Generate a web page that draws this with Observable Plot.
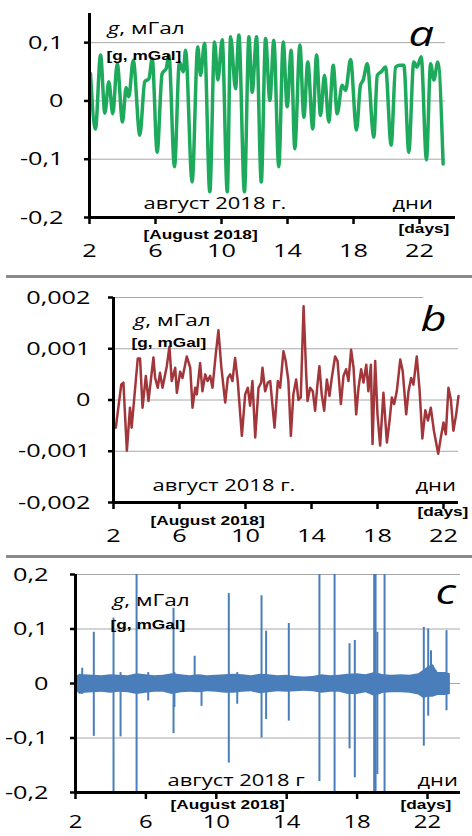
<!DOCTYPE html>
<html><head><meta charset="utf-8">
<script src="https://cdn.jsdelivr.net/npm/d3@7"></script>
<script src="https://cdn.jsdelivr.net/npm/@observablehq/plot@0.6"></script>
<style>
body{margin:0;background:#fff;}
#wrap{position:relative;width:472px;height:836px;overflow:hidden;background:#fff;}
.panel{position:absolute;left:0;}
.sep{position:absolute;left:6px;width:466px;height:3px;background:#8a8a8a;}
</style></head><body><div id="wrap"></div>
<script>
// ---------- DATA ----------
const xTicks = [2, 6, 10, 14, 18, 22];
const xTickLabels = ["2", "6", "10", "14", "18", "22"];

// panel a (mGal)
const yTicksA = [-0.2, -0.1, 0, 0.1];
const yLabelsA = ["-0,2", "-0,1", "0", "0,1"];
const dayA = [2.06,2.36,2.67,2.93,3.17,3.41,3.68,4.0,4.22,4.38,4.65,5.05,5.35,5.6,5.8,6.1,6.4,6.65,6.81,7.15,7.45,7.68,7.82,8.22,8.56,8.73,8.97,9.29,9.58,9.78,10.04,10.35,10.55,10.85,11.05,11.39,11.66,11.86,12.12,12.41,12.67,12.93,13.17,13.47,13.74,13.98,14.22,14.44,14.75,14.99,15.23,15.53,15.76,16.0,16.24,16.5,16.77,17.01,17.31,17.52,17.82,18.18,18.42,18.59,18.83,19.23,19.44,19.68,19.94,20.28,20.55,20.8,21.05,21.35,21.65,21.85,22.1,22.42,22.67,22.87,23.11,23.43];
const gA = [0.047,-0.048,0.079,-0.021,0.033,-0.022,0.064,-0.036,0.023,0.007,0.07,-0.059,0.033,0.038,0.073,-0.088,0.047,0.056,0.079,-0.113,0.067,0.05,0.087,-0.139,0.093,0.044,0.099,-0.156,0.101,0.036,0.105,-0.156,0.11,0.021,0.113,-0.156,0.11,0.015,0.11,-0.139,0.107,0.001,0.104,-0.113,0.101,-0.01,0.087,-0.082,0.096,-0.028,0.067,-0.048,0.079,-0.025,0.044,-0.036,0.061,-0.022,0.027,0.018,0.071,-0.05,0.027,0.036,0.064,-0.062,0.044,0.05,0.058,-0.076,0.058,0.061,0.061,-0.088,0.067,0.058,0.076,-0.101,0.064,0.036,0.067,-0.108];

// panel b (mGal)
const yTicksB = [-0.002, -0.001, 0, 0.001, 0.002];
const yLabelsB = ["-0,002", "-0,001", "0", "0,001", "0,002"];
const dayB = [2.14,2.47,2.6,2.81,3.0,3.1,3.47,3.61,3.76,3.96,4.12,4.42,4.52,4.68,4.82,4.97,5.23,5.39,5.53,5.74,5.84,6.04,6.18,6.44,6.65,6.79,6.95,7.05,7.25,7.39,7.56,7.7,7.86,8.0,8.2,8.36,8.53,8.77,8.93,9.07,9.21,9.37,9.53,9.78,9.98,10.14,10.28,10.42,10.59,10.79,10.95,11.03,11.19,11.35,11.5,11.76,11.96,12.1,12.3,12.44,12.6,12.75,12.9,13.07,13.21,13.35,13.52,13.68,13.76,13.92,14.08,14.22,14.36,14.48,14.62,14.77,14.93,15.09,15.23,15.43,15.58,15.78,15.94,16.1,16.24,16.4,16.55,16.71,16.85,17.01,17.15,17.32,17.45,17.6,17.7,17.86,18.0,18.16,18.36,18.57,18.73,18.87,19.01,19.17,19.38,19.53,19.74,19.88,20.04,20.18,20.38,20.55,20.72,20.9,21.06,21.23,21.42,21.68,21.84,22.0,22.14,22.3,22.45,22.6,22.77,22.91];
const gB = [-0.00054,0.0003,0.00034,-0.00099,-0.00015,-0.00054,0.00081,0.00081,-0.00015,0.00047,-0.00002,0.00083,0.00044,0.00024,0.00053,0.00024,0.00066,0.00104,0.00037,0.00063,0.00014,0.00055,0.00043,0.00085,0.00063,-0.00015,0.00024,0.00011,0.00072,0.00017,0.0005,0.00037,0.00047,0.00024,0.0009,0.00136,0.00066,-0.00005,0.00043,0.0005,0.00037,0.00082,0.00037,-0.0007,0.00011,0.00024,-0.00011,0.00037,-0.00073,0.00024,0.00034,0.00063,0.00017,0.00034,0.00037,-0.00054,0.00037,0.00024,0.00095,0.00076,0.00037,-0.0007,0.00011,0.0004,0.0,0.00005,0.00183,0.0005,-0.00002,0.00024,0.00017,-0.00021,0.0003,0.00066,0.00011,-0.00021,0.0004,0.00008,0.00043,0.00085,0.00076,-0.00008,0.00047,0.0006,0.00037,0.00098,0.00063,-0.00028,0.00024,0.0006,0.00034,0.00069,0.00017,0.00069,-0.00086,0.00076,-0.00028,-0.00089,0.00014,-0.00083,-0.00041,0.00005,-0.00008,0.00017,0.00079,0.00056,-0.00028,0.00017,0.00043,0.0003,0.00085,0.0002,-0.00075,-0.0002,-0.0004,-0.00015,-0.0006,-0.00105,-0.00073,-0.00044,-0.00067,0.00024,0.0,-0.0006,-0.00028,0.00008];

// panel c (mGal): noise band envelope + spikes
const yTicksC = [-0.2, -0.1, 0, 0.1, 0.2];
const yLabelsC = ["-0,2", "-0,1", "0", "0,1", "0,2"];
const cBandDay = [2.0,2.25,2.5,3.0,3.5,4.0,4.5,5.0,5.5,6.0,6.5,7.0,7.5,8.0,8.5,9.0,9.5,10.0,10.5,11.0,11.5,12.0,12.5,13.0,13.5,14.0,14.5,15.0,15.5,16.0,16.5,17.0,17.5,18.0,18.5,19.0,19.5,20.0,20.5,21.0,21.5,21.8,22.0,22.3,22.6,23.0,23.3];
const cBandHi = [0.012,0.017,0.016,0.015,0.014,0.016,0.015,0.014,0.018,0.016,0.014,0.015,0.018,0.016,0.014,0.016,0.014,0.015,0.016,0.017,0.016,0.014,0.017,0.016,0.014,0.015,0.013,0.012,0.013,0.016,0.014,0.015,0.017,0.018,0.016,0.02,0.016,0.015,0.016,0.015,0.018,0.025,0.03,0.035,0.02,0.02,0.018];
const cBandLo = [-0.012,-0.02,-0.018,-0.017,-0.016,-0.018,-0.016,-0.017,-0.02,-0.018,-0.016,-0.016,-0.02,-0.017,-0.016,-0.017,-0.015,-0.016,-0.018,-0.018,-0.016,-0.015,-0.019,-0.017,-0.015,-0.016,-0.015,-0.014,-0.015,-0.018,-0.016,-0.016,-0.02,-0.02,-0.017,-0.024,-0.018,-0.017,-0.017,-0.018,-0.021,-0.028,-0.025,-0.025,-0.022,-0.022,-0.02];
const cSpikeDay = [2.38,3.04,4.16,4.56,5.47,6.13,7.57,7.62,8.77,9.16,10.71,11.19,12.57,12.83,14.12,15.86,16.72,17.57,17.87,18.97,19.05,19.15,19.56,21.79,22.04,22.2,22.3,23.08];
const cSpikeHi = [0.028,0.094,0.12,0.02,0.2,0.02,0.138,0.02,0.05,0.015,0.165,0.02,0.161,0.096,0.11,0.2,0.2,0.073,0.079,0.2,0.2,0.094,0.2,0.103,0.1,0.06,0.033,0.097];
const cSpikeLo = [-0.02,-0.097,-0.2,-0.098,-0.2,-0.032,-0.092,-0.044,-0.015,-0.042,-0.146,-0.038,-0.1,-0.066,-0.069,-0.18,-0.2,-0.12,-0.173,-0.2,-0.2,-0.167,-0.2,-0.115,-0.06,-0.02,-0.02,-0.05];

// ---------- DRAWING ----------
const SX = 1.33;
const FONT = "'Open Sans', 'Noto Sans', sans-serif";
const BOLD = "'Liberation Sans', Arial, sans-serif";
const wrap = document.getElementById("wrap");

function label(str, dx, dy, o = {}) {
  return Plot.text([str], {text: d => d, frameAnchor: "top-left", dx, dy,
    textAnchor: "start", lineAnchor: "bottom", fill: "black", fontFamily: FONT, fontSize: 17, ...o});
}

function panel(cfg) {
  const {top, height, mT, mB, mL, mR, xDomain, yDomain, yTicks, yLabels, tickPad, xFont = 19, xPad = 19, grids, data, texts} = cfg;
  const svg = Plot.plot({
    width: 472, height, marginTop: mT, marginBottom: mB, marginLeft: mL, marginRight: mR,
    x: {domain: xDomain}, y: {domain: yDomain},
    style: {fontFamily: FONT, fontSize: "19px", color: "black", background: "white", overflow: "visible"},
    marks: [
      ...grids,
      ...data,
      Plot.ruleX([xDomain[0]], {y1: () => yDomain[0], y2: () => yDomain[1], stroke: "black", strokeWidth: 3}),
      Plot.ruleY([yDomain[0]], {stroke: "black", strokeWidth: 3}),
      Plot.axisY({ticks: yTicks, tickFormat: d => yLabels[yTicks.indexOf(d)], tickSize: 5, tickPadding: tickPad,
        fontSize: 19, strokeWidth: 2.5, label: null}),
      Plot.axisX({ticks: xTicks, tickFormat: d => xTickLabels[xTicks.indexOf(d)], tickSize: 7, tickPadding: xPad,
        fontSize: xFont, strokeWidth: 2.5, label: null}),
      ...texts
    ]
  });
  svg.classList.add("panel");
  svg.style.top = top + "px";
  const ns = "http://www.w3.org/2000/svg";
  svg.querySelectorAll("text").forEach(t => {
    const tr = t.getAttribute("transform") || "";
    t.setAttribute("transform", tr + ` scale(${SX},1)`);
    if (t.textContent === "g, мГал") {
      t.textContent = "";
      const a = document.createElementNS(ns, "tspan");
      a.setAttribute("font-style", "italic"); a.textContent = "g";
      const b = document.createElementNS(ns, "tspan");
      b.textContent = ", мГал";
      t.appendChild(a); t.appendChild(b);
    }
  });
  wrap.appendChild(svg);
}

function sep(top) {
  const d = document.createElement("div");
  d.className = "sep"; d.style.top = top + "px";
  wrap.appendChild(d);
}

const GRID = "#a8a8a8";
const idx = n => d3.range(n);

// Panel a
{
  const xDomain = [2, 24.18], yDomain = [-0.2, 0.15];
  panel({
    top: 0, height: 274, mT: 13, mB: 57, mL: 89, mR: 17, xDomain, yDomain,
    yTicks: yTicksA, yLabels: yLabelsA, tickPad: 21,
    grids: [Plot.ruleY([-0.1, 0, 0.1], {x1: () => 2, x2: () => 23.58, stroke: GRID, strokeWidth: 1})],
    data: [Plot.line(idx(dayA.length), {x: i => dayA[i], y: i => gA[i], stroke: "#1eaa5c", strokeWidth: 3.5, curve: "monotone-x"})],
    texts: [
      label("g, мГал", 18, 20),
      label("[g, mGal]", 17, 46, {fontFamily: BOLD, fontWeight: "bold", fontSize: 13}),
      label("a", 319, 32, {fontSize: 34, fontStyle: "italic"}),
      label("август 2018 г.", 54, 195, {fontSize: 16.5}),
      label("дни", 303, 195, {fontSize: 16.5}),
      label("[August 2018]", 54, 225, {fontFamily: BOLD, fontWeight: "bold", fontSize: 13}),
      label("[days]", 309, 219, {fontFamily: BOLD, fontWeight: "bold", fontSize: 13})
    ]
  });
}
sep(275);
// Panel b
{
  const xDomain = [2, 22.91], yDomain = [-0.002, 0.002];
  panel({
    top: 278, height: 277, mT: 19, mB: 53, mL: 113, mR: 14, xDomain, yDomain,
    yTicks: yTicksB, yLabels: yLabelsB, tickPad: 18,
    grids: [
      Plot.ruleY([0.002], {x1: () => 2, x2: () => 20.8, stroke: GRID, strokeWidth: 1}),
      Plot.ruleY([-0.001, 0, 0.001], {stroke: GRID, strokeWidth: 1})
    ],
    data: [Plot.line(idx(dayB.length), {x: i => dayB[i], y: i => gB[i], stroke: "#a2373b", strokeWidth: 2.5})],
    texts: [
      label("g, мГал", 20, 28),
      label("[g, mGal]", 18, 49, {fontFamily: BOLD, fontWeight: "bold", fontSize: 13}),
      label("b", 307, 33, {fontSize: 34, fontStyle: "italic"}),
      label("август 2018 г.", 39, 193, {fontSize: 16.5}),
      label("дни", 302, 193, {fontSize: 16.5}),
      label("[August 2018]", 37, 227, {fontFamily: BOLD, fontWeight: "bold", fontSize: 13}),
      label("[days]", 304, 218, {fontFamily: BOLD, fontWeight: "bold", fontSize: 13})
    ]
  });
}
sep(555);
// Panel c
{
  const xDomain = [2, 23.875], yDomain = [-0.2, 0.2];
  const blue = "#4a7ebb";
  panel({
    top: 558, height: 278, mT: 16, mB: 44, mL: 75, mR: 12, xDomain, yDomain,
    yTicks: yTicksC, yLabels: yLabelsC, tickPad: 22, xFont: 18, xPad: 16,
    grids: [Plot.ruleY([-0.1, 0, 0.1, 0.2], {stroke: GRID, strokeWidth: 1})],
    data: [
      Plot.areaY(idx(cBandDay.length), {x: i => cBandDay[i], y1: i => cBandLo[i], y2: i => cBandHi[i], fill: blue}),
      Plot.ruleX(idx(cSpikeDay.length), {x: i => cSpikeDay[i], y1: i => cSpikeLo[i], y2: i => cSpikeHi[i], stroke: blue, strokeWidth: 2})
    ],
    texts: [
      label("g, мГал", 37, 31),
      label("[g, mGal]", 35, 54, {fontFamily: BOLD, fontWeight: "bold", fontSize: 13}),
      label("c", 360, 29, {fontSize: 34, fontStyle: "italic"}),
      label("август 2018 г", 92, 211, {fontSize: 16.5}),
      label("дни", 342, 211, {fontSize: 16.5}),
      label("[August 2018]", 95, 234, {fontFamily: BOLD, fontWeight: "bold", fontSize: 13}),
      label("[days]", 325, 234, {fontFamily: BOLD, fontWeight: "bold", fontSize: 13})
    ]
  });
}
</script></body></html>
